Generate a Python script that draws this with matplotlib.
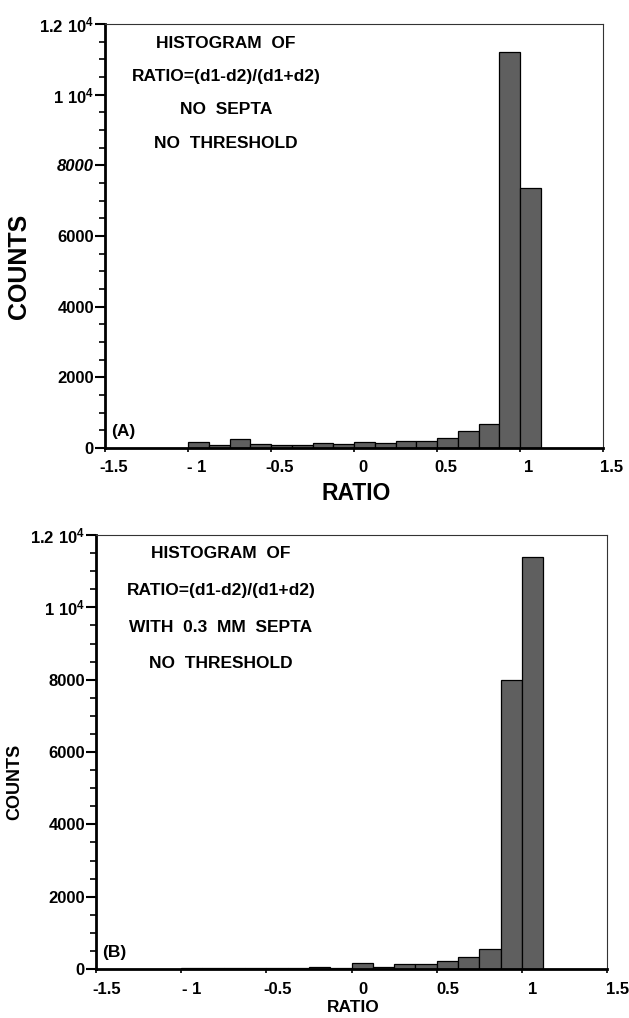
import numpy as np
import matplotlib
matplotlib.use("Agg")
import matplotlib.pyplot as plt
from matplotlib.ticker import MultipleLocator
import matplotlib.transforms as mtransforms

plt.rcParams['font.family'] = ['Liberation Sans', 'DejaVu Sans']
plt.rcParams['mathtext.fontset'] = 'custom'
plt.rcParams['mathtext.rm'] = 'Liberation Sans:bold'
plt.rcParams['mathtext.bf'] = 'Liberation Sans:bold'
plt.rcParams['mathtext.it'] = 'Liberation Sans:bold:italic'

# ---- data ----
bin_edges = [-1.0, -0.875, -0.75, -0.625, -0.5, -0.375, -0.25, -0.125, 0.0,
             0.125, 0.25, 0.375, 0.5, 0.625, 0.75, 0.875, 1.0, 1.125]
counts_a = [180, 75, 265, 120, 75, 95, 140, 105, 160, 150, 190, 190, 290, 470, 690, 11200, 7370]
counts_b = [40, 20, 40, 20, 30, 30, 60, 40, 155, 65, 140, 140, 230, 340, 550, 8000, 11400]

xticks = [-1.5, -1, -0.5, 0, 0.5, 1, 1.5]
xticklabels = ['-1.5', '- 1', '-0.5', '0', '0.5', '1', '1.5']
yticks = [0, 2000, 4000, 6000, 8000, 10000, 12000]
yticklabels = ['0', '2000', '4000', '6000', '8000', r'$\mathrm{1\ 10^{4}}$', r'$\mathrm{1.2\ 10^{4}}$']

text_a = ["HISTOGRAM  OF", "RATIO=(d1-d2)/(d1+d2)", "NO  SEPTA", "NO  THRESHOLD"]
text_b = ["HISTOGRAM  OF", "RATIO=(d1-d2)/(d1+d2)", "WITH  0.3  MM  SEPTA", "NO  THRESHOLD"]

W, H = 629, 1018
fig = plt.figure(figsize=(W / 100, H / 100), dpi=100)


def frac_rect(l, r, t, b):
    return [l / W, 1 - b / H, (r - l) / W, (b - t) / H]


def make_panel(rect, counts, italic_8000, lines, line_y, text_x, tag, tag_xy,
               tick_fs, lab_fs, shift_px, ylab_x, xlab_y):
    ax = fig.add_axes(frac_rect(*rect))
    edges = np.array(bin_edges)
    ax.bar(edges[:-1], counts, width=np.diff(edges), align='edge',
           color='#5f5f5f', edgecolor='black', linewidth=0.9, zorder=2)
    ax.set_xlim(-1.5, 1.5)
    ax.set_ylim(0, 12000)
    ax.set_xticks(xticks)
    ax.set_xticklabels(xticklabels, fontsize=tick_fs, fontweight='bold')
    ax.set_yticks(yticks)
    ax.set_yticklabels(yticklabels, fontsize=tick_fs, fontweight='bold')
    if italic_8000:
        ax.get_yticklabels()[4].set_fontstyle('italic')
    ax.yaxis.set_minor_locator(MultipleLocator(500))
    ax.tick_params(axis='y', which='major', direction='out', length=7, width=1.5, pad=1)
    ax.tick_params(axis='y', which='minor', direction='out', length=4, width=1.2)
    ax.tick_params(axis='x', which='major', direction='out', length=3, width=1.2, pad=6)
    for lab in ax.get_xticklabels():
        lab.set_transform(lab.get_transform() +
                          mtransforms.ScaledTranslation(shift_px / 100, 0, fig.dpi_scale_trans))
    ax.spines['left'].set_linewidth(2.0)
    ax.spines['bottom'].set_linewidth(2.0)
    ax.spines['top'].set_linewidth(0.8)
    ax.spines['right'].set_linewidth(0.8)
    for s in ['top', 'right']:
        ax.spines[s].set_color('#333333')
    x0, x1 = rect[0], rect[1]
    yt, yb = rect[2], rect[3]
    for s, yy in zip(lines, line_y):
        fig.text(text_x / W, 1 - yy / H, s, ha='center', va='center',
                 fontsize=lab_fs[2], fontweight='bold')
    fig.text(tag_xy[0] / W, 1 - tag_xy[1] / H, tag, ha='left', va='center',
             fontsize=lab_fs[2], fontweight='bold')
    fig.text(ylab_x / W, 1 - ((yt + yb) / 2 + 30) / H, 'COUNTS', rotation=90,
             ha='center', va='center', fontsize=lab_fs[0], fontweight='bold')
    fig.text(((x0 + x1) / 2 + 2) / W, 1 - xlab_y / H, 'RATIO',
             ha='center', va='center', fontsize=lab_fs[1], fontweight='bold')
    return ax


make_panel((105, 603, 24, 448), counts_a, True, text_a,
           [44, 77, 110, 144], 226, '(A)', (111, 432),
           12, (18, 16.5, 12.5), 9, 19, 493)
make_panel((96, 607, 535, 969), counts_b, False, text_b,
           [553, 590, 627, 664], 221, '(B)', (102, 952),
           12, (13, 12.5, 12.5), 11, 15, 1008)

fig.savefig('out.png', dpi=100)
